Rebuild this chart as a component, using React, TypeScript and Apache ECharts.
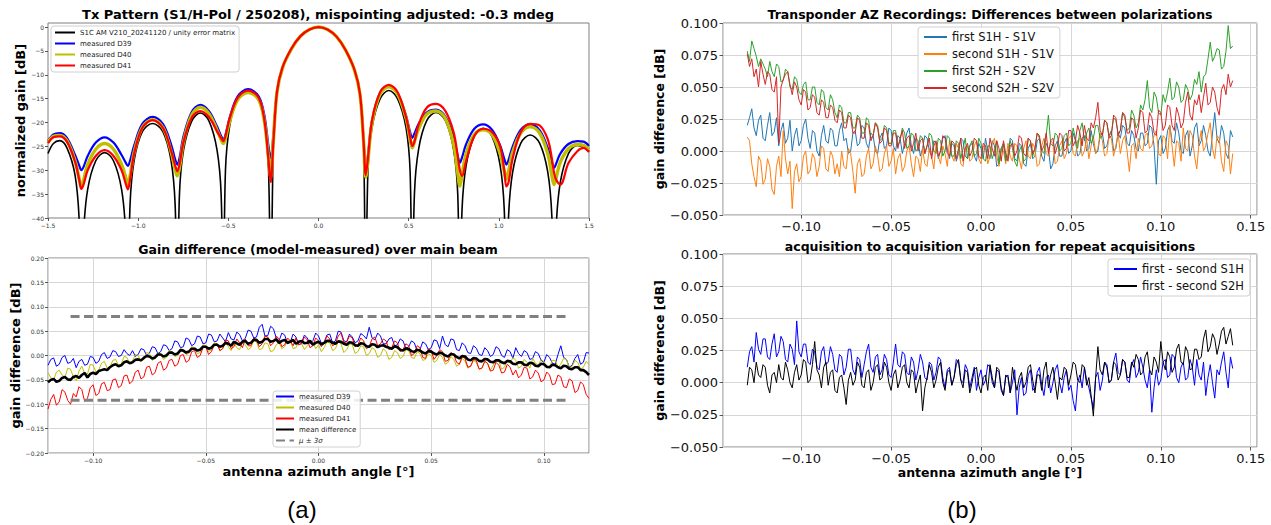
import React, { useEffect, useRef } from "react";
import * as echarts from "echarts";

const PATTERN_X = [
  -1.5, -1.47, -1.435, -1.395, -1.35, -1.327, -1.315,
  -1.303, -1.28, -1.235, -1.186, -1.137, -1.092, -1.069, -1.057,
  -1.045, -1.022, -0.977, -0.92, -0.863, -0.818, -0.795, -0.783,
  -0.771, -0.748, -0.703, -0.655, -0.607, -0.563, -0.54, -0.528,
  -0.516, -0.493, -0.448, -0.39, -0.332, -0.3, -0.277, -0.265,
  -0.25, -0.23, -0.2, -0.15, -0.1, -0.05, 0, 0.05, 0.1, 0.15, 0.2, 0.23, 0.25, 0.262,
  0.274, 0.297, 0.342, 0.39, 0.438, 0.485, 0.508, 0.52,
  0.532, 0.555, 0.6, 0.652, 0.704, 0.749, 0.772, 0.784,
  0.796, 0.819, 0.864, 0.913, 0.962, 1.007, 1.03, 1.042,
  1.054, 1.077, 1.122, 1.174, 1.226, 1.271, 1.294, 1.306,
  1.318, 1.341, 1.386, 1.435, 1.47, 1.5,
];
const PATTERN_MODEL = [
  -26.5, -24.4, -23.8, -25.3, -31.0, -40.5, -60,
  -43.3, -34.0, -28.0, -26.3, -28.0, -34.0, -43.3, -60,
  -37.2, -27.9, -21.9, -20.2, -21.9, -27.9, -37.2, -60,
  -35.0, -25.7, -19.7, -18.0, -19.7, -25.7, -35.0, -60,
  -30.1, -20.8, -14.8, -13.1, -14.6, -19.5, -30.0, -60,
  -24.0, -13.5, -8.5, -4.5, -1.9, -0.5, 0, -0.5, -2.0, -4.8, -9.0, -14.0, -24.5, -60,
  -30.3, -21.0, -15.0, -13.3, -15.0, -21.0, -30.3, -60,
  -34.9, -25.6, -19.6, -17.9, -19.6, -25.6, -34.9, -60,
  -38.2, -28.9, -22.9, -21.2, -22.9, -28.9, -38.2, -60,
  -39.6, -30.3, -24.3, -22.6, -24.3, -30.3, -39.6, -60,
  -41.8, -32.5, -26.5, -24.8, -25.2, -26.0,
];
const PATTERN_D39 = [
  -23.9, -22.5, -22.2, -23.2, -26.8, -29.0, -30.0,
  -29.3, -27.0, -24.2, -23.1, -24.2, -26.8, -28.4, -29.1,
  -28.0, -24.8, -20.3, -18.8, -20.3, -24.5, -27.7, -28.8,
  -27.5, -22.8, -17.8, -16.3, -17.6, -20.8, -22.8, -23.6,
  -22.6, -19.0, -14.5, -13.0, -14.5, -18.5, -25.0, -27.5,
  -22.5, -13.5, -8.5, -4.5, -1.9, -0.5, 0, -0.5, -2.0, -4.8, -9.0, -14.0, -23.5, -30.0,
  -27.0, -19.5, -13.8, -12.3, -13.8, -18.5, -22.0, -23.2,
  -22.3, -20.3, -17.9, -17.3, -18.8, -23.0, -27.0, -28.4,
  -27.3, -24.5, -21.3, -20.4, -21.5, -24.8, -27.6, -28.8,
  -27.8, -25.0, -21.5, -20.4, -21.6, -25.3, -28.3, -29.5,
  -28.6, -26.5, -24.5, -23.9, -24.0, -24.9,
];
const PATTERN_D40 = [
  -24.2, -22.9, -22.7, -23.8, -28.0, -31.8, -33.7,
  -32.2, -28.8, -25.6, -24.4, -25.6, -28.8, -31.5, -33.0,
  -31.2, -26.2, -21.0, -19.4, -21.0, -26.0, -29.8, -31.2,
  -29.5, -24.0, -18.4, -16.8, -18.2, -21.6, -23.6, -24.4,
  -23.3, -19.8, -15.2, -13.7, -15.2, -19.8, -27.5, -31.5,
  -23.5, -13.6, -8.6, -4.6, -1.9, -0.5, 0, -0.5, -2.0, -4.8, -9.1, -14.1, -24.0, -31.5,
  -28.0, -20.0, -14.0, -12.5, -14.0, -19.0, -23.5, -25.3,
  -24.0, -21.3, -18.3, -17.6, -19.2, -24.5, -30.5, -33.3,
  -31.0, -26.5, -22.5, -21.5, -22.5, -26.5, -30.2, -31.9,
  -30.2, -26.2, -22.2, -20.9, -22.2, -26.5, -31.0, -33.0,
  -31.5, -28.3, -25.5, -24.6, -24.8, -25.6,
];
const PATTERN_D41 = [
  -24.3, -23.1, -22.9, -24.0, -28.2, -32.0, -33.9,
  -33.0, -30.0, -27.0, -25.8, -27.0, -30.0, -32.8, -34.0,
  -32.0, -26.5, -21.1, -19.5, -21.1, -25.8, -29.0, -30.2,
  -28.8, -24.0, -19.0, -17.6, -18.9, -21.8, -23.3, -23.9,
  -22.8, -19.2, -14.8, -13.3, -14.8, -19.5, -28.0, -32.5,
  -24.0, -13.5, -8.5, -4.5, -1.9, -0.5, 0, -0.5, -2.0, -4.8, -9.0, -14.0, -24.0, -31.0,
  -27.5, -19.5, -13.6, -12.1, -13.6, -18.8, -23.0, -24.9,
  -24.0, -20.5, -16.9, -16.1, -17.6, -22.0, -27.0, -30.0,
  -31.2, -28.0, -22.8, -21.3, -22.0, -25.0, -30.0, -33.4,
  -32.5, -27.5, -22.0, -20.3, -20.6, -23.5, -27.5, -30.5,
  -32.0, -33.0, -28.5, -26.0, -25.3, -26.2,
];

const DIFF_X_RANGE = [-0.12, 0.12];
const DIFF_D39 = [
  -0.020, -0.008, -0.005, -0.022, -0.018, -0.004, 0.000, -0.016, -0.014, -0.006, -0.025, -0.012, -0.008, -0.020, -0.018, -0.002, -0.004, -0.016, -0.012, 0.002,
  0.006, -0.006, -0.003, 0.010, 0.008, -0.002, 0.000, 0.012, 0.004, 0.000, 0.010, -0.002, 0.002, 0.014, 0.012, 0.000, 0.005, 0.018, 0.016, 0.004,
  0.008, 0.022, 0.020, 0.010, 0.014, 0.030, 0.028, 0.016, 0.018, 0.036, 0.033, 0.020, 0.024, 0.040, 0.038, 0.024, 0.026, 0.044, 0.042, 0.028,
  0.030, 0.044, 0.036, 0.028, 0.047, 0.034, 0.032, 0.048, 0.043, 0.030, 0.035, 0.052, 0.050, 0.036, 0.038, 0.058, 0.064, 0.040, 0.041, 0.060,
  0.055, 0.036, 0.030, 0.046, 0.042, 0.024, 0.028, 0.044, 0.038, 0.022, 0.026, 0.042, 0.036, 0.024, 0.030, 0.046, 0.040, 0.025, 0.027, 0.042,
  0.044, 0.026, 0.030, 0.050, 0.048, 0.030, 0.028, 0.044, 0.038, 0.026, 0.030, 0.045, 0.041, 0.034, 0.058, 0.036, 0.032, 0.046, 0.040, 0.024,
  0.024, 0.034, 0.037, 0.020, 0.022, 0.034, 0.030, 0.014, 0.018, 0.030, 0.026, 0.010, 0.012, 0.028, 0.024, 0.012, 0.016, 0.032, 0.030, 0.014,
  0.040, 0.022, 0.018, 0.034, 0.032, 0.012, 0.010, 0.026, 0.020, 0.006, 0.004, 0.020, 0.015, 0.002, 0.000, 0.016, 0.010, -0.002, 0.002, 0.018,
  0.014, 0.000, -0.004, 0.012, 0.008, -0.006, 0.016, 0.004, -0.002, 0.010, 0.006, -0.008, -0.006, 0.008, 0.004, -0.010, -0.014, 0.002, -0.004, -0.016,
  -0.018, 0.002, 0.020, -0.004, -0.008, -0.024, -0.020, -0.006, 0.002, -0.018, -0.014, 0.006, 0.005,
];
const DIFF_D40 = [
  -0.035, -0.046, -0.050, -0.034, -0.030, -0.040, -0.045, -0.026, -0.028, -0.044, -0.052, -0.032, -0.022, -0.036, -0.038, -0.018, -0.020, -0.034, -0.030, -0.016,
  -0.012, -0.026, -0.024, -0.010, -0.008, -0.020, -0.018, -0.002, -0.004, -0.016, -0.012, 0.002, 0.000, -0.012, -0.008, 0.006, 0.004, -0.010, -0.006, 0.006,
  0.002, -0.008, -0.004, 0.010, 0.008, -0.002, 0.000, 0.014, 0.012, 0.002, 0.004, 0.018, 0.016, 0.004, 0.006, 0.022, 0.020, 0.008, 0.012, 0.026,
  0.024, 0.010, 0.014, 0.026, 0.018, 0.010, 0.026, 0.016, 0.012, 0.028, 0.022, 0.012, 0.016, 0.030, 0.028, 0.012, 0.014, 0.026, 0.024, 0.008,
  0.010, 0.022, 0.026, 0.014, 0.018, 0.032, 0.030, 0.014, 0.016, 0.028, 0.024, 0.012, 0.020, 0.030, 0.028, 0.014, 0.022, 0.008, 0.016, 0.028,
  0.026, 0.010, 0.014, 0.028, 0.024, 0.006, 0.012, 0.024, 0.022, 0.004, 0.008, 0.020, 0.018, 0.000, 0.004, 0.016, 0.012, -0.004, 0.000, 0.014,
  0.008, -0.008, -0.004, 0.010, 0.006, -0.006, -0.002, 0.012, 0.010, -0.004, -0.006, 0.008, 0.004, -0.010, -0.008, 0.004, 0.000, -0.014, -0.010, 0.002,
  -0.004, -0.018, -0.014, -0.002, -0.008, -0.022, -0.018, -0.006, -0.012, -0.026, -0.022, -0.010, -0.014, -0.028, -0.026, -0.012, -0.016, -0.030, -0.020, -0.008,
  -0.012, -0.028, -0.024, -0.010, -0.016, -0.004, -0.010, -0.026, -0.022, -0.008, -0.014, -0.026, -0.006, -0.016, -0.020, -0.008, -0.012, -0.026, -0.024, -0.010,
  -0.010, -0.024, -0.018, -0.006, -0.008, -0.026, -0.022, -0.010, -0.014, -0.028, -0.024, -0.012, -0.018,
];
const DIFF_D41 = [
  -0.110, -0.090, -0.080, -0.102, -0.095, -0.070, -0.075, -0.092, -0.100, -0.078, -0.085, -0.064, -0.070, -0.094, -0.088, -0.066, -0.060, -0.082, -0.078, -0.058,
  -0.055, -0.072, -0.070, -0.050, -0.048, -0.066, -0.062, -0.042, -0.040, -0.058, -0.052, -0.034, -0.030, -0.048, -0.044, -0.024, -0.022, -0.040, -0.035, -0.016,
  -0.012, -0.030, -0.026, -0.010, -0.008, -0.022, -0.018, 0.000, 0.002, -0.014, -0.010, 0.008, 0.010, -0.004, 0.000, 0.016, 0.018, 0.002, 0.008, 0.022,
  0.024, 0.010, 0.014, 0.032, 0.030, 0.014, 0.018, 0.034, 0.026, 0.016, 0.034, 0.020, 0.020, 0.036, 0.032, 0.018, 0.024, 0.040, 0.038, 0.020,
  0.026, 0.040, 0.034, 0.018, 0.022, 0.036, 0.030, 0.020, 0.036, 0.022, 0.024, 0.038, 0.032, 0.016, 0.020, 0.036, 0.030, 0.018, 0.026, 0.040,
  0.034, 0.020, 0.024, 0.040, 0.046, 0.026, 0.028, 0.040, 0.036, 0.018, 0.022, 0.036, 0.030, 0.014, 0.018, 0.034, 0.038, 0.020, 0.024, 0.034,
  0.030, 0.012, 0.016, 0.030, 0.026, 0.008, 0.012, 0.024, 0.020, 0.000, 0.004, 0.020, 0.016, -0.004, -0.006, 0.014, 0.010, -0.008, 0.000, 0.012,
  0.008, -0.012, -0.010, 0.006, 0.002, -0.014, -0.018, -0.002, -0.006, -0.024, -0.022, -0.008, -0.010, -0.028, -0.026, -0.012, -0.016, -0.032, -0.030, -0.014,
  -0.020, -0.036, -0.034, -0.018, -0.024, -0.040, -0.030, -0.046, -0.040, -0.024, -0.026, -0.048, -0.044, -0.030, -0.036, -0.054, -0.050, -0.034, -0.040, -0.060,
  -0.058, -0.040, -0.044, -0.064, -0.066, -0.048, -0.052, -0.076, -0.072, -0.054, -0.060, -0.080, -0.088,
];
const DIFF_MEAN = [
  -0.055, -0.050, -0.048, -0.054, -0.052, -0.046, -0.044, -0.049, -0.050, -0.044, -0.042, -0.046, -0.040, -0.036, -0.045, -0.038, -0.035, -0.038, -0.032, -0.030,
  -0.028, -0.030, -0.024, -0.020, -0.018, -0.022, -0.020, -0.014, -0.012, -0.016, -0.014, -0.009, -0.008, -0.010, -0.005, -0.001, -0.002, -0.006, -0.004, 0.002,
  0.002, -0.002, 0.000, 0.006, 0.006, 0.002, 0.004, 0.011, 0.010, 0.006, 0.008, 0.014, 0.014, 0.010, 0.012, 0.018, 0.018, 0.014, 0.016, 0.022,
  0.022, 0.018, 0.020, 0.026, 0.024, 0.020, 0.028, 0.025, 0.022, 0.028, 0.030, 0.024, 0.026, 0.032, 0.032, 0.026, 0.028, 0.034, 0.034, 0.028,
  0.030, 0.033, 0.026, 0.030, 0.032, 0.026, 0.028, 0.032, 0.024, 0.028, 0.030, 0.025, 0.026, 0.030, 0.022, 0.026, 0.028, 0.023, 0.026, 0.030,
  0.030, 0.026, 0.024, 0.029, 0.028, 0.024, 0.022, 0.027, 0.026, 0.021, 0.020, 0.025, 0.024, 0.019, 0.018, 0.023, 0.022, 0.017, 0.020, 0.021,
  0.018, 0.016, 0.014, 0.019, 0.017, 0.012, 0.010, 0.015, 0.013, 0.009, 0.007, 0.012, 0.010, 0.006, 0.004, 0.009, 0.008, 0.004, 0.002, 0.006,
  0.004, 0.000, -0.002, 0.003, 0.002, -0.003, -0.006, -0.001, -0.002, -0.008, -0.010, -0.005, -0.006, -0.011, -0.012, -0.007, -0.008, -0.013, -0.014, -0.010,
  -0.010, -0.014, -0.016, -0.011, -0.012, -0.017, -0.018, -0.014, -0.014, -0.019, -0.020, -0.015, -0.016, -0.021, -0.022, -0.017, -0.018, -0.023, -0.024, -0.019,
  -0.020, -0.024, -0.026, -0.021, -0.022, -0.027, -0.028, -0.024, -0.024, -0.030, -0.030, -0.034, -0.040,
];
const SIGMA_X = [-0.11, 0.11];
const SIGMA_UPPER = 0.080;
const SIGMA_LOWER = -0.092;

const TR_X_RANGE = [-0.13, 0.14];
const POL_FIRST_S1 = [
  0.020, 0.026, 0.033, 0.018, 0.012, 0.024, 0.028, 0.010, 0.008, 0.020, 0.030, 0.012, 0.015, 0.026, 0.004, 0.016, 0.022, 0.006, 0.010, 0.024,
  0.000, 0.012, 0.018, 0.004, 0.008, 0.020, 0.025, 0.010, 0.002, 0.016, 0.014, 0.000, -0.004, 0.012, 0.020, 0.008, 0.006, 0.018, 0.016, 0.004,
  0.004, 0.016, 0.022, 0.008, 0.010, -0.002, 0.000, 0.014, 0.016, 0.004, 0.006, 0.020, 0.018, 0.006, 0.002, 0.014, 0.012, 0.000, -0.002, 0.010,
  0.014, 0.002, 0.004, 0.018, 0.016, 0.004, 0.000, 0.012, 0.010, -0.002, 0.006, 0.014, 0.018, 0.004, -0.002, 0.010, 0.008, -0.004, 0.002, 0.012,
  0.010, 0.000, -0.004, 0.008, 0.006, -0.006, 0.000, 0.010, 0.012, 0.002, -0.006, 0.006, 0.004, -0.008, -0.002, 0.010, 0.008, -0.004, -0.006, 0.004,
  0.006, -0.004, -0.008, 0.006, 0.002, -0.006, 0.010, 0.000, -0.006, 0.008, 0.004, -0.012, -0.010, 0.002, 0.006, -0.006, -0.004, 0.010, 0.008, -0.006,
  -0.008, 0.006, 0.004, -0.010, -0.012, 0.002, 0.006, -0.006, -0.004, 0.008, 0.010, -0.004, -0.008, 0.006, 0.002, -0.014, -0.010, 0.004, 0.008, -0.004,
  -0.004, 0.006, 0.010, -0.002, 0.000, 0.014, 0.008, -0.004, -0.002, 0.010, 0.012, 0.000, 0.002, 0.016, 0.006, -0.002, 0.000, 0.012, 0.014, 0.002,
  0.004, 0.012, 0.016, 0.000, 0.002, 0.014, 0.010, 0.020, 0.018, 0.006, 0.004, 0.016, 0.012, 0.002, 0.000, 0.014, 0.014, 0.004, 0.006, 0.020,
  0.018, 0.004, -0.026, 0.008, 0.012, -0.002, 0.002, 0.016, 0.020, 0.008, 0.006, 0.022, 0.014, 0.000, -0.002, 0.012, 0.016, -0.004, 0.004, 0.018,
  0.022, 0.004, 0.008, 0.020, 0.012, 0.000, -0.004, 0.014, 0.030, 0.010, 0.006, 0.020, 0.014, -0.002, -0.006, 0.016, 0.011,
];
const POL_SECOND_S1 = [
  0.011, 0.008, -0.010, -0.020, -0.028, -0.004, -0.008, -0.026, -0.022, -0.006, -0.012, -0.030, -0.034, -0.012, -0.004, -0.020, 0.016, -0.006, -0.018, -0.008,
  -0.045, -0.016, -0.010, -0.024, -0.020, -0.004, 0.000, -0.018, -0.015, -0.002, -0.006, -0.020, -0.012, 0.004, 0.002, -0.014, -0.016, 0.000, -0.004, -0.018,
  -0.010, -0.020, 0.000, -0.012, -0.014, 0.002, -0.002, -0.016, -0.033, -0.010, -0.006, -0.020, -0.018, -0.004, 0.002, -0.014, -0.010, 0.004, -0.004, -0.016,
  -0.014, -0.002, 0.004, -0.012, -0.008, 0.002, -0.018, -0.006, -0.002, -0.016, -0.012, 0.000, 0.004, -0.010, -0.020, -0.004, -0.006, -0.016, 0.002, -0.010,
  -0.012, 0.002, -0.004, -0.014, 0.006, -0.004, -0.010, 0.004, -0.002, -0.012, 0.008, -0.004, -0.008, 0.006, 0.002, -0.010, -0.012, 0.002, 0.004, -0.008,
  -0.006, 0.004, 0.008, -0.006, -0.010, 0.004, 0.002, -0.010, -0.004, 0.006, 0.010, -0.004, -0.012, 0.002, 0.000, -0.010, 0.006, -0.004, -0.008, 0.006,
  0.004, -0.006, -0.014, 0.002, 0.008, -0.004, -0.006, 0.006, 0.002, -0.012, -0.010, 0.004, 0.010, -0.002, -0.004, 0.008, 0.006, -0.010, -0.008, 0.004,
  0.008, -0.006, -0.002, 0.010, 0.012, -0.002, -0.004, 0.008, 0.010, -0.004, 0.000, 0.010, -0.006, 0.004, 0.012, -0.002, 0.002, 0.014, 0.008, -0.004,
  -0.002, 0.012, 0.010, -0.004, 0.004, 0.014, -0.002, 0.008, 0.012, 0.000, -0.016, 0.004, 0.006, -0.006, 0.010, 0.002, 0.000, 0.012, 0.014, 0.002,
  0.004, 0.012, 0.016, -0.002, -0.004, 0.012, 0.010, -0.006, 0.020, 0.004, -0.012, 0.008, 0.006, -0.008, 0.018, 0.002, 0.000, 0.016, 0.012, -0.004,
  -0.014, 0.006, 0.016, 0.000, 0.004, 0.014, 0.022, 0.002, -0.006, 0.012, 0.010, -0.008, -0.016, 0.008, 0.004, -0.018, -0.002,
];
const POL_FIRST_S2 = [
  0.078, 0.070, 0.086, 0.080, 0.074, 0.066, 0.072, 0.068, 0.064, 0.058, 0.070, 0.062, 0.058, 0.068, 0.066, 0.054, 0.055, 0.064, 0.062, 0.050,
  0.048, 0.058, 0.056, 0.046, 0.044, 0.052, 0.054, 0.040, 0.040, 0.050, 0.050, 0.038, 0.036, 0.048, 0.046, 0.034, 0.032, 0.044, 0.040, 0.030,
  0.026, 0.036, 0.034, 0.022, 0.022, 0.030, 0.030, 0.018, 0.018, 0.028, 0.026, 0.014, 0.014, 0.026, 0.024, 0.010, 0.012, 0.022, 0.020, 0.008,
  0.010, 0.020, 0.018, 0.006, 0.006, 0.016, 0.016, 0.004, 0.008, 0.018, 0.014, 0.002, 0.004, 0.014, 0.012, 0.000, 0.002, 0.012, 0.010, -0.002,
  0.004, 0.014, 0.012, 0.000, -0.002, 0.010, 0.008, -0.004, 0.000, 0.012, 0.010, -0.004, -0.004, 0.008, 0.006, -0.006, 0.002, 0.010, -0.006, 0.004,
  0.008, -0.004, -0.002, 0.010, 0.006, -0.006, -0.008, 0.004, 0.004, -0.006, 0.000, 0.008, -0.010, 0.002, 0.006, -0.008, -0.004, 0.008, 0.002, -0.008,
  -0.012, 0.000, 0.004, -0.008, -0.006, 0.010, 0.008, -0.004, 0.002, 0.014, 0.010, 0.000, -0.002, 0.012, 0.028, 0.006, 0.004, 0.014, 0.012, 0.000,
  0.002, 0.012, 0.014, 0.004, 0.006, 0.018, 0.010, 0.002, 0.016, 0.022, 0.008, 0.014, 0.018, 0.006, 0.010, 0.020, 0.020, 0.010, 0.012, 0.024,
  0.022, 0.012, 0.014, 0.026, 0.024, 0.014, 0.016, 0.030, 0.026, 0.016, 0.018, 0.032, 0.028, 0.018, 0.022, 0.036, 0.032, 0.040, 0.055, 0.034,
  0.030, 0.046, 0.042, 0.030, 0.028, 0.044, 0.038, 0.046, 0.057, 0.040, 0.042, 0.054, 0.050, 0.038, 0.040, 0.052, 0.048, 0.040, 0.044, 0.056,
  0.052, 0.062, 0.046, 0.058, 0.060, 0.072, 0.085, 0.070, 0.074, 0.080, 0.079, 0.064, 0.066, 0.078, 0.098, 0.080, 0.082,
];
const POL_SECOND_S2 = [
  0.076, 0.066, 0.072, 0.058, 0.064, 0.050, 0.070, 0.060, 0.052, 0.062, 0.060, 0.048, 0.046, 0.058, 0.006, 0.050, 0.056, 0.060, 0.062, 0.052,
  0.044, 0.054, 0.050, 0.040, 0.036, 0.048, 0.046, 0.032, 0.034, 0.044, 0.042, 0.030, 0.028, 0.040, 0.038, 0.026, 0.026, 0.036, 0.034, 0.024,
  0.022, 0.032, 0.030, 0.018, 0.018, 0.028, 0.026, 0.014, 0.014, 0.026, 0.024, 0.010, 0.010, 0.022, 0.020, 0.008, 0.012, 0.022, 0.018, 0.006,
  0.008, 0.018, 0.016, 0.004, 0.004, 0.014, 0.014, 0.002, 0.010, 0.016, 0.002, 0.010, 0.012, 0.000, 0.006, 0.014, 0.000, 0.008, 0.010, -0.002,
  0.004, 0.010, -0.006, 0.004, 0.008, -0.004, 0.000, 0.012, 0.010, -0.002, -0.004, 0.008, 0.006, -0.006, 0.002, 0.010, -0.008, 0.002, 0.006, -0.004,
  0.000, 0.010, 0.008, -0.004, -0.006, 0.006, 0.004, -0.006, 0.010, 0.002, -0.004, 0.008, 0.002, -0.008, 0.008, -0.002, -0.008, 0.004, 0.006, -0.004,
  0.000, 0.012, 0.010, -0.002, -0.004, 0.010, 0.008, -0.002, 0.002, 0.014, 0.012, 0.000, 0.004, 0.014, -0.002, 0.008, 0.010, -0.002, 0.004, 0.014,
  0.012, 0.000, 0.002, 0.016, 0.016, 0.004, 0.008, 0.020, 0.014, 0.004, 0.020, 0.010, 0.008, 0.022, 0.018, 0.026, 0.038, 0.016, 0.012, 0.024,
  0.022, 0.010, 0.012, 0.028, 0.026, 0.012, 0.016, 0.030, 0.028, 0.014, 0.014, 0.026, 0.024, 0.010, 0.018, 0.032, 0.030, 0.014, 0.016, 0.030,
  0.026, 0.014, 0.012, 0.032, 0.030, 0.016, 0.020, 0.036, 0.034, 0.020, 0.016, 0.034, 0.028, 0.018, 0.022, 0.038, 0.046, 0.028, 0.024, 0.040,
  0.036, 0.044, 0.030, 0.042, 0.053, 0.036, 0.038, 0.050, 0.046, 0.034, 0.028, 0.048, 0.052, 0.044, 0.060, 0.050, 0.055,
];

const REP_S1H = [
  0.012, 0.024, 0.028, 0.016, 0.039, 0.026, 0.022, 0.034, 0.034, 0.020, 0.018, 0.030, 0.038, 0.020, 0.024, 0.036, 0.032, 0.018, 0.016, 0.030,
  0.026, 0.014, 0.048, 0.024, 0.020, 0.030, 0.030, 0.016, 0.014, 0.026, 0.024, 0.012, 0.010, 0.024, 0.028, 0.014, 0.016, 0.028, 0.022, 0.010,
  0.008, 0.022, 0.020, 0.006, 0.012, 0.026, 0.026, 0.010, 0.006, 0.020, 0.018, 0.004, 0.014, 0.024, 0.030, 0.012, 0.008, 0.020, 0.022, 0.006,
  0.010, 0.022, 0.018, 0.006, 0.004, 0.016, 0.030, 0.014, 0.012, 0.024, 0.022, 0.008, 0.006, 0.020, 0.016, 0.002, 0.010, 0.022, 0.016, 0.004,
  0.002, 0.016, 0.014, 0.002, 0.008, 0.020, 0.018, 0.004, -0.004, 0.010, 0.012, -0.002, 0.004, 0.018, 0.016, 0.002, 0.000, 0.014, 0.010, -0.004,
  0.004, 0.012, -0.006, 0.004, 0.010, -0.002, 0.002, 0.014, 0.012, 0.000, -0.004, 0.010, 0.008, -0.006, -0.010, 0.004, 0.006, -0.008, 0.000, 0.010,
  -0.025, -0.004, 0.004, -0.010, -0.008, 0.006, 0.010, -0.006, -0.004, 0.008, 0.012, -0.002, -0.010, 0.004, 0.006, -0.008, 0.000, 0.010, 0.014, 0.000,
  -0.008, 0.004, 0.010, -0.006, -0.002, -0.014, -0.022, 0.000, 0.006, -0.004, 0.012, 0.002, -0.004, -0.012, -0.020, 0.004, 0.008, -0.006, 0.002, 0.016,
  0.014, 0.000, 0.002, 0.016, 0.023, 0.008, 0.006, 0.018, 0.016, 0.002, 0.000, 0.014, 0.018, 0.004, 0.008, 0.020, 0.012, 0.002, -0.004, 0.010,
  -0.023, -0.004, 0.010, -0.002, 0.002, 0.016, 0.018, 0.004, 0.006, 0.022, 0.020, 0.004, 0.000, 0.012, 0.016, 0.002, 0.004, 0.018, 0.012, -0.002,
  0.018, 0.006, 0.002, 0.016, -0.010, 0.004, 0.014, 0.000, -0.012, 0.010, 0.006, 0.016, 0.024, 0.008, -0.004, 0.020, 0.011,
];
const REP_S2H = [
  -0.002, 0.012, 0.010, 0.000, 0.016, 0.006, 0.004, 0.014, 0.012, -0.002, -0.008, 0.006, 0.008, 0.000, 0.014, 0.004, 0.002, 0.016, 0.010, 0.000,
  -0.004, 0.008, 0.014, 0.002, 0.006, 0.018, 0.016, 0.000, 0.002, 0.014, 0.032, 0.010, 0.006, -0.004, 0.012, 0.016, -0.002, 0.008, 0.010, -0.006,
  -0.008, 0.004, 0.006, -0.004, -0.017, 0.002, 0.008, -0.002, 0.002, 0.016, 0.012, -0.002, -0.004, 0.008, 0.010, -0.006, 0.000, 0.012, 0.014, 0.002,
  0.004, 0.016, 0.012, 0.000, -0.006, 0.006, 0.010, -0.004, 0.002, 0.012, 0.014, 0.000, -0.004, 0.010, 0.008, -0.008, 0.000, 0.006, -0.022, -0.004,
  0.004, 0.014, 0.008, -0.004, 0.002, 0.012, 0.016, 0.000, -0.006, 0.008, 0.010, -0.002, 0.004, 0.014, 0.018, 0.002, -0.004, 0.010, 0.008, -0.008,
  0.000, 0.010, 0.012, -0.002, -0.008, 0.004, 0.006, -0.006, 0.014, 0.004, -0.004, 0.012, 0.010, -0.004, -0.010, 0.006, 0.004, -0.008, 0.012, 0.002,
  -0.006, 0.004, 0.008, -0.004, 0.000, 0.012, 0.014, 0.002, -0.008, 0.006, 0.006, -0.006, 0.010, 0.016, -0.004, 0.006, 0.012, 0.000, -0.013, 0.004,
  0.002, 0.012, 0.010, -0.002, 0.006, 0.016, 0.014, 0.002, 0.000, 0.014, 0.012, -0.002, 0.004, -0.010, -0.026, 0.004, 0.028, 0.010, 0.006, 0.016,
  0.012, 0.000, 0.002, 0.016, 0.014, 0.002, 0.006, 0.018, 0.016, 0.004, 0.004, 0.016, 0.012, 0.022, 0.018, 0.006, 0.008, 0.020, 0.024, 0.010,
  0.006, 0.020, 0.016, 0.008, 0.032, 0.016, 0.010, 0.024, 0.020, 0.008, 0.012, 0.026, 0.030, 0.016, 0.014, 0.028, 0.024, 0.010, 0.011, 0.026,
  0.026, 0.018, 0.020, 0.034, 0.041, 0.024, 0.028, 0.038, 0.034, 0.022, 0.030, 0.040, 0.043, 0.030, 0.036, 0.042, 0.029,
];

const FONT = "DejaVu Sans";

function zip(xs: number[], ys: number[]) {
  return xs.map((x, i) => [x, ys[i]]);
}
function sampled(range: number[], ys: number[]) {
  const n = ys.length - 1;
  return ys.map((y, i) => [range[0] + ((range[1] - range[0]) * i) / n, y]);
}
function fmt(d: number) {
  return (v: number) => {
    const r = Number(v.toFixed(d));
    const s = Math.abs(r).toFixed(d);
    return r < 0 ? "\u2212" + s : s;
  };
}

function lineSeries(name: string, data: any[], axis: number, color: string, width: number, smooth: number | boolean = false, dash: any = "solid") {
  return {
    type: "line",
    name,
    data,
    xAxisIndex: axis,
    yAxisIndex: axis,
    symbol: "none",
    showSymbol: false,
    lineStyle: { color, width, type: dash },
    itemStyle: { color },
    smooth,
    emphasis: { disabled: true },
  };
}

export default function App() {
  const ref = useRef<HTMLDivElement>(null);
  useEffect(() => {
    if (!ref.current) return;
    const chart = echarts.init(ref.current, undefined, { renderer: "svg" });

    const smallLab = (d: number, minL: boolean, maxL: boolean) => ({ fontSize: 6, color: "#333", fontFamily: FONT, formatter: fmt(d), margin: 4, showMinLabel: minL, showMaxLabel: maxL });
    const bigLab = (d: number, minL: boolean, maxL: boolean) => ({ fontSize: 13, color: "#111", fontFamily: FONT, formatter: fmt(d), margin: 5, showMinLabel: minL, showMaxLabel: maxL });
    const nameStyle = (size: number) => ({ fontSize: size, fontWeight: "bold", fontFamily: FONT, color: "#000" });
    const split = () => ({ show: true, lineStyle: { color: "#d6d6d6", width: 1 } });
    const noSplit = () => ({ show: false });
    const tick = (len: number) => ({ show: true, length: len, lineStyle: { color: "#555" } });
    const noLine = () => ({ show: false, onZero: false });

    const grids = [
      { left: 48, top: 23, width: 541, height: 195, show: true, borderColor: "#808080", borderWidth: 1 },
      { left: 48, top: 258, width: 541, height: 195, show: true, borderColor: "#808080", borderWidth: 1 },
      { left: 723, top: 23, width: 534, height: 192, show: true, borderColor: "#808080", borderWidth: 1 },
      { left: 723, top: 254, width: 534, height: 193, show: true, borderColor: "#808080", borderWidth: 1 },
    ];

    const xAxes = [
      { gridIndex: 0, type: "value", min: -1.5, max: 1.5, interval: 0.5, axisLine: noLine(), axisTick: tick(3), splitLine: noSplit(), axisLabel: smallLab(1, true, true) },
      { gridIndex: 1, type: "value", min: -0.12, max: 0.12, splitNumber: 5, axisLine: noLine(), axisTick: tick(3), splitLine: split(), axisLabel: smallLab(2, false, false), name: "antenna azimuth angle [°]", nameLocation: "middle", nameGap: 12, nameTextStyle: nameStyle(13) },
      { gridIndex: 2, type: "value", min: -0.1435, max: 0.1535, splitNumber: 6, axisLine: noLine(), axisTick: tick(3.5), splitLine: split(), axisLabel: bigLab(2, false, false) },
      { gridIndex: 3, type: "value", min: -0.1435, max: 0.1535, splitNumber: 6, axisLine: noLine(), axisTick: tick(3.5), splitLine: split(), axisLabel: bigLab(2, false, false), name: "antenna azimuth angle [°]", nameLocation: "middle", nameGap: 17, nameTextStyle: nameStyle(12.5) },
    ];
    const yAxes = [
      { gridIndex: 0, type: "value", min: -40, max: 0.85, interval: 5, axisLine: noLine(), axisTick: tick(3), splitLine: noSplit(), axisLabel: smallLab(0, true, false), name: "normalized gain [dB]", nameLocation: "middle", nameGap: 21, nameTextStyle: nameStyle(13) },
      { gridIndex: 1, type: "value", min: -0.2, max: 0.2, interval: 0.05, axisLine: noLine(), axisTick: tick(3), splitLine: split(), axisLabel: smallLab(2, true, true), name: "gain difference [dB]", nameLocation: "middle", nameGap: 26, nameTextStyle: nameStyle(13) },
      { gridIndex: 2, type: "value", min: -0.05, max: 0.1, interval: 0.025, axisLine: noLine(), axisTick: tick(3.5), splitLine: split(), axisLabel: bigLab(3, true, true), name: "gain difference [dB]", nameLocation: "middle", nameGap: 54, nameTextStyle: nameStyle(12.5) },
      { gridIndex: 3, type: "value", min: -0.05, max: 0.1, interval: 0.025, axisLine: noLine(), axisTick: tick(3.5), splitLine: split(), axisLabel: bigLab(3, true, true), name: "gain difference [dB]", nameLocation: "middle", nameGap: 54, nameTextStyle: nameStyle(12.5) },
    ];

    const series: any[] = [
      lineSeries("S1C AM V210_20241120 / unity error matrix", zip(PATTERN_X, PATTERN_MODEL), 0, "#000000", 1.6, 0.35),
      lineSeries("measured D39", zip(PATTERN_X, PATTERN_D39), 0, "#0000ff", 2.2, 0.35),
      lineSeries("measured D40", zip(PATTERN_X, PATTERN_D40), 0, "#bfbf00", 3.4, 0.35),
      lineSeries("measured D41", zip(PATTERN_X, PATTERN_D41), 0, "#ff0000", 2.2, 0.35),

      lineSeries("measured D39", sampled(DIFF_X_RANGE, DIFF_D39), 1, "#0000ff", 1),
      lineSeries("measured D40", sampled(DIFF_X_RANGE, DIFF_D40), 1, "#bfbf00", 1),
      lineSeries("measured D41", sampled(DIFF_X_RANGE, DIFF_D41), 1, "#ff0000", 1),
      lineSeries("mean difference", sampled(DIFF_X_RANGE, DIFF_MEAN), 1, "#000000", 2.6),
      lineSeries("μ ± 3σ", zip(SIGMA_X, [SIGMA_UPPER, SIGMA_UPPER]), 1, "#808080", 3, false, [9, 4.5]),
      lineSeries("μ ± 3σ", zip(SIGMA_X, [SIGMA_LOWER, SIGMA_LOWER]), 1, "#808080", 3, false, [9, 4.5]),

      lineSeries("first S1H - S1V", sampled(TR_X_RANGE, POL_FIRST_S1), 2, "#1f77b4", 1),
      lineSeries("second S1H - S1V", sampled(TR_X_RANGE, POL_SECOND_S1), 2, "#ff7f0e", 1),
      lineSeries("first S2H - S2V", sampled(TR_X_RANGE, POL_FIRST_S2), 2, "#2ca02c", 1),
      lineSeries("second S2H - S2V", sampled(TR_X_RANGE, POL_SECOND_S2), 2, "#d62728", 1),

      lineSeries("first - second S1H", sampled(TR_X_RANGE, REP_S1H), 3, "#0000ff", 1),
      lineSeries("first - second S2H", sampled(TR_X_RANGE, REP_S2H), 3, "#000000", 1),
    ];

    const legendBase = () => ({
      orient: "vertical",
      selectedMode: false,
      backgroundColor: "rgba(255,255,255,0.85)",
      borderColor: "#d0d0d0",
      borderWidth: 1,
      borderRadius: 3,
      itemStyle: { color: "rgba(0,0,0,0)", borderColor: "rgba(0,0,0,0)", borderWidth: 0 },
    });
    const legends = [
      { ...legendBase(), data: ["S1C AM V210_20241120 / unity error matrix", "measured D39", "measured D40", "measured D41"], left: 51, top: 26, itemWidth: 20, itemHeight: 7, itemGap: 4, padding: [3, 4, 3, 3], textStyle: { fontSize: 7, color: "#222", fontFamily: FONT } },
      { ...legendBase(), data: ["measured D39", "measured D40", "measured D41", "mean difference", { name: "μ ± 3σ", textStyle: { fontStyle: "italic" } }], left: 273, top: 391, itemWidth: 18, itemHeight: 7, itemGap: 4, padding: [2, 4, 3, 2], textStyle: { fontSize: 7, color: "#222", fontFamily: FONT } },
      { ...legendBase(), data: ["first S1H - S1V", "second S1H - S1V", "first S2H - S2V", "second S2H - S2V"], left: 918, top: 27, itemWidth: 23, itemHeight: 12, itemGap: 5, padding: [4, 6, 4, 5], textStyle: { fontSize: 11.5, color: "#111", fontFamily: FONT } },
      { ...legendBase(), data: ["first - second S1H", "first - second S2H"], left: 1108, top: 259, itemWidth: 23, itemHeight: 12, itemGap: 5, padding: [4, 6, 4, 5], textStyle: { fontSize: 11.5, color: "#111", fontFamily: FONT } },
    ];

    const title = (text: string, x: number, y: number, size: number) => ({
      type: "text",
      x,
      y,
      silent: true,
      style: { text, fontSize: size, fontWeight: "bold", fontFamily: FONT, fill: "#000", align: "center", verticalAlign: "middle" },
    });
    const graphic = [
      title("Tx Pattern (S1/H-Pol / 250208), mispointing adjusted: -0.3 mdeg", 318, 14, 13),
      title("Gain difference (model-measured) over main beam", 318, 249, 12.5),
      title("Transponder AZ Recordings: Differences between polarizations", 990, 14, 12.5),
      title("acquisition to acquisition variation for repeat acquisitions", 990, 246, 12.5),
      { type: "text", x: 302, y: 509, silent: true, style: { text: "(a)", fontSize: 24, fontFamily: "Liberation Sans", fill: "#000", align: "center", verticalAlign: "middle" } },
      { type: "text", x: 962, y: 509, silent: true, style: { text: "(b)", fontSize: 24, fontFamily: "Liberation Sans", fill: "#000", align: "center", verticalAlign: "middle" } },
    ];

    chart.setOption({
      animation: false,
      backgroundColor: "#ffffff",
      grid: grids,
      xAxis: xAxes,
      yAxis: yAxes,
      legend: legends,
      series,
      graphic,
    });
    return () => chart.dispose();
  }, []);

  return <div ref={ref} style={{ position: "fixed", left: 0, top: 0, width: 1271, height: 525 }} />;
}
